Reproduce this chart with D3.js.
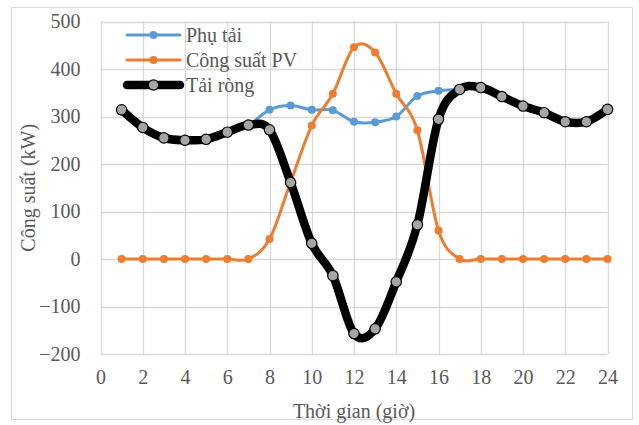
<!DOCTYPE html>
<html>
<head>
<meta charset="utf-8">
<script src="https://cdn.jsdelivr.net/npm/d3@7"></script>
<style>
  html, body { margin: 0; padding: 0; background: #fff; }
  svg { display: block; }
</style>
</head>
<body>
<svg id="chart" width="639" height="425"></svg>
<script>
const hours = [1,2,3,4,5,6,7,8,9,10,11,12,13,14,15,16,17,18,19,20,21,22,23,24];
const phuTai = [314,277,255,250,252,267,282,314,323,314,313,289,288,300,343,354,357,361,342,322,308,289,289,315];
const congSuatPV = [0,0,0,0,0,0,0,42,162,281,348,446,435,348,271,60,0,0,0,0,0,0,0,0];
const taiRong = [314,277,255,250,252,267,282,272,161,33,-35,-157,-147,-48,72,294,357,361,342,322,308,289,289,315];
const xTicks = [0,2,4,6,8,10,12,14,16,18,20,22,24];
const yTicks = [-200,-100,0,100,200,300,400,500];
const seriesNames = ["Phụ tải", "Công suất PV", "Tải ròng"];

// pick an installed serif font by measuring text against a fallback
function pickFont(cands) {
  const c = document.createElement("canvas").getContext("2d");
  const s = "Công suất PV 0123456789 mmmwwwiiilll";
  const widths = {};
  ["monospace", "sans-serif"].forEach(b => { c.font = "40px " + b; widths[b] = c.measureText(s).width; });
  for (const f of cands) {
    let ok = true;
    for (const b of ["monospace", "sans-serif"]) {
      c.font = `40px "${f}", ${b}`;
      if (Math.abs(c.measureText(s).width - widths[b]) < 0.01) { ok = false; break; }
    }
    if (ok) return `"${f}", serif`;
  }
  return "serif";
}
const FONT = pickFont(["Liberation Serif", "Tinos", "Times New Roman", "Noto Serif", "Nimbus Roman", "Nimbus Roman No9 L", "FreeSerif", "DejaVu Serif", "Georgia", "Times"]);

const svg = d3.select("#chart");

// outer chart border
svg.append("rect").attr("x", 11.5).attr("y", 7.5).attr("width", 621).attr("height", 412)
  .attr("fill", "#fff").attr("stroke", "#D9D9D9").attr("stroke-width", 1);

const x = d3.scaleLinear().domain([0, 24]).range([100.5, 607.5]);
const y = d3.scaleLinear().domain([-200, 500]).range([354, 21.5]);

// gridlines
const grid = svg.append("g");
grid.selectAll("line.h").data(yTicks).join("line")
  .attr("x1", x(0)).attr("x2", x(24))
  .attr("y1", d => Math.round(y(d)) + 0.5).attr("y2", d => Math.round(y(d)) + 0.5)
  .attr("stroke", "#D9D9D9").attr("stroke-width", 1.3);
grid.selectAll("line.v").data(xTicks).join("line")
  .attr("y1", y(500)).attr("y2", y(-200))
  .attr("x1", d => Math.round(x(d)) + 0.5).attr("x2", d => Math.round(x(d)) + 0.5)
  .attr("stroke", "#D9D9D9").attr("stroke-width", 1.3);

// axes (tick labels via d3 axes)
const xAxis = svg.append("g").attr("transform", `translate(0,${y(-200)})`)
  .call(d3.axisBottom(x).tickValues(xTicks).tickSize(0).tickPadding(16));
const yAxis = svg.append("g").attr("transform", `translate(${x(0)},0)`)
  .call(d3.axisLeft(y).tickValues(yTicks).tickSize(0).tickPadding(20));
[xAxis, yAxis].forEach(a => {
  a.attr("font-family", FONT).attr("font-size", 20);
  a.select(".domain").remove();
  a.selectAll("text").attr("fill", "#595959");
});

// axis titles
svg.append("text").attr("x", (x(0) + x(24)) / 2).attr("y", 418).attr("fill", "#595959")
  .attr("text-anchor", "middle").attr("font-family", FONT).attr("font-size", 20).text("Thời gian (giờ)");
svg.append("text").attr("transform", `translate(35,${(y(500) + y(-200)) / 2}) rotate(-90)`).attr("fill", "#595959")
  .attr("text-anchor", "middle").attr("font-family", FONT).attr("font-size", 20).text("Công suất (kW)");

const line = d3.line().x((d, i) => x(hours[i])).y(d => y(d)).curve(d3.curveCardinal.tension(0));

const styles = [
  { data: phuTai, color: "#5B9BD5", width: 3, r: 4, fill: "#5B9BD5", stroke: "#5B9BD5", sw: 0 },
  { data: congSuatPV, color: "#ED7D31", width: 3, r: 4, fill: "#ED7D31", stroke: "#ED7D31", sw: 0 },
  { data: taiRong, color: "#000000", width: 8.5, r: 5.2, fill: "#A5A5A5", stroke: "#000", sw: 1.2 }
];

styles.forEach(s => {
  const g = svg.append("g");
  g.append("path").datum(s.data).attr("d", line)
    .attr("fill", "none").attr("stroke", s.color).attr("stroke-width", s.width)
    .attr("stroke-linejoin", "round").attr("stroke-linecap", "round");
  g.selectAll("circle").data(s.data).join("circle")
    .attr("cx", (d, i) => x(hours[i])).attr("cy", d => y(d)).attr("r", s.r)
    .attr("fill", s.fill).attr("stroke", s.stroke).attr("stroke-width", s.sw);
});

// legend
const legend = svg.append("g");
const ly = [35, 60, 85];
styles.forEach((s, i) => {
  const g = legend.append("g").attr("transform", `translate(0,${ly[i]})`);
  g.append("line").attr("x1", 127).attr("x2", 180).attr("y1", 0).attr("y2", 0)
    .attr("stroke", s.color).attr("stroke-width", s.width).attr("stroke-linecap", "round");
  g.append("circle").attr("cx", 153.5).attr("cy", 0).attr("r", s.r)
    .attr("fill", s.fill).attr("stroke", s.stroke).attr("stroke-width", s.sw);
  g.append("text").attr("x", 186).attr("y", 6.5).attr("fill", "#595959")
    .attr("font-family", FONT).attr("font-size", 20).text(seriesNames[i]);
});
</script>
</body>
</html>
